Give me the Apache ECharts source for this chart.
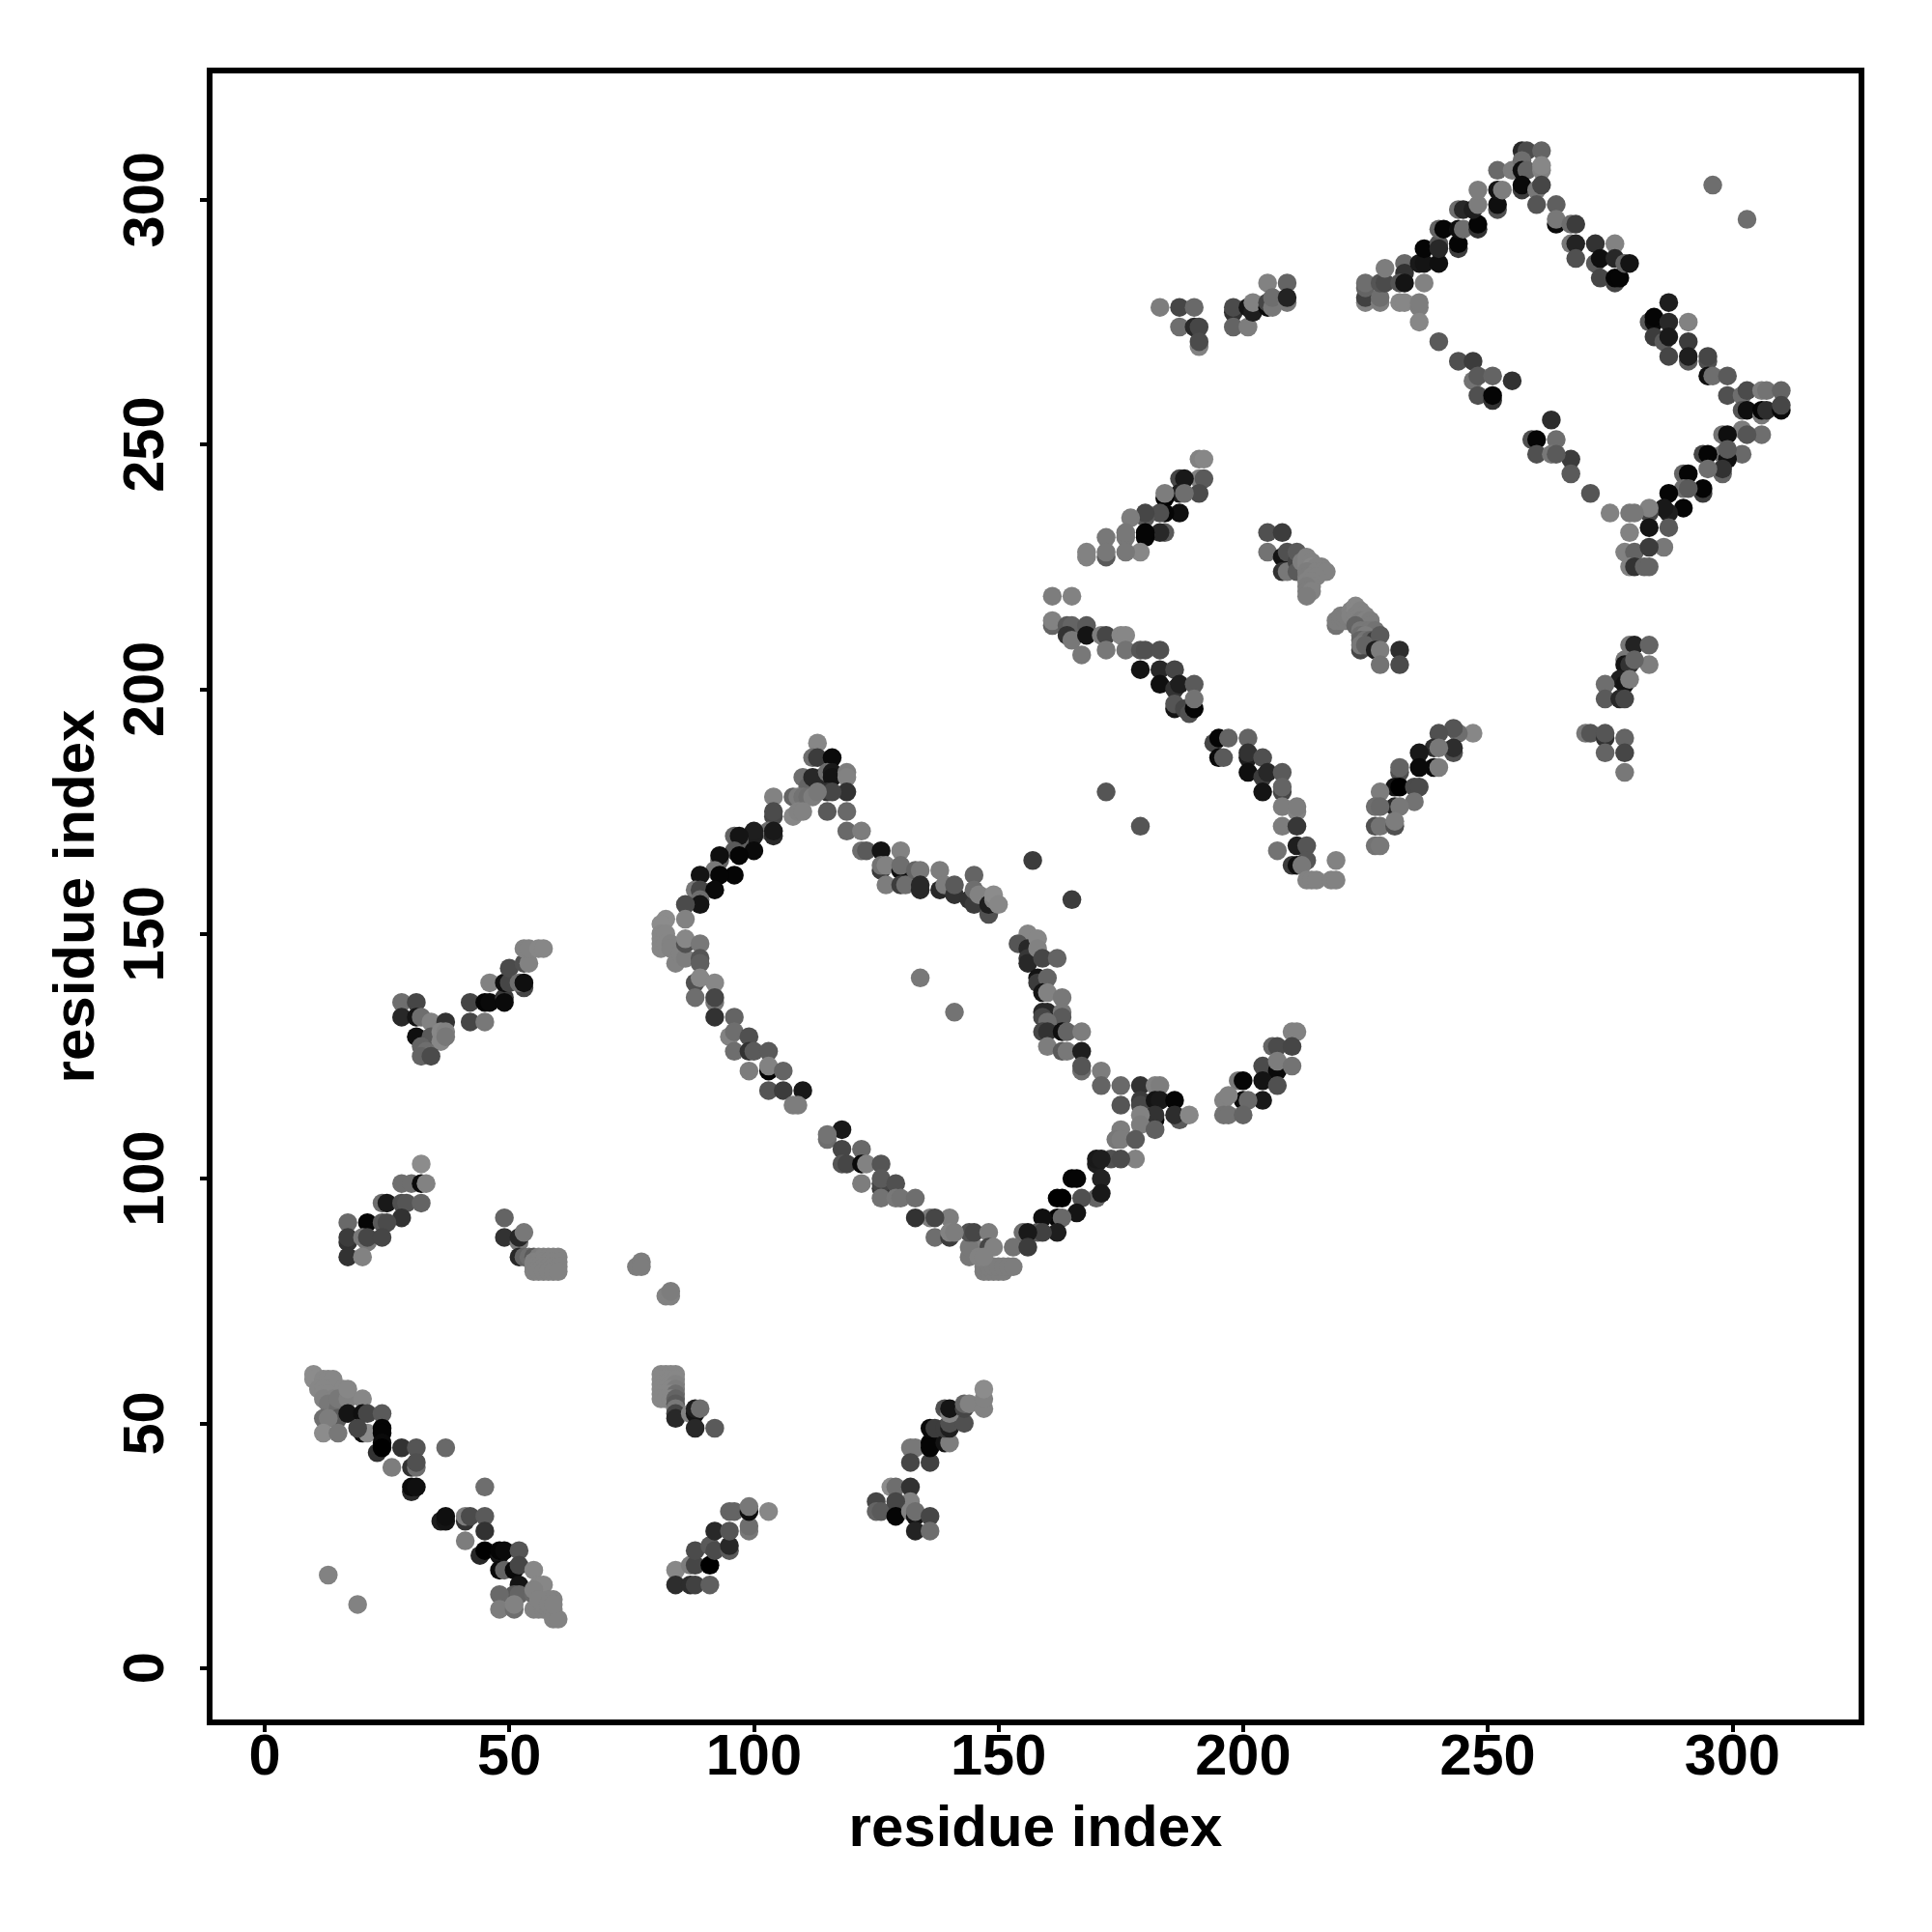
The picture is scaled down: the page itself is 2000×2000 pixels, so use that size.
<!DOCTYPE html>
<html><head><meta charset="utf-8"><style>html,body{margin:0;background:#fff}#c{width:2000px;height:2000px}</style>
<script src="https://cdn.jsdelivr.net/npm/echarts@6/dist/echarts.min.js"></script></head><body><div id="c"></div>
<script>
// every point: [residue x, residue y, gray level]
const tickValues=[0,50,100,150,200,250,300];
const axisTitle="residue index";
const isolated=[[13,19,130],[19,13,130],[134,141,120],[141,134,115],[172,179,85],[179,172,85],[157,165,60],[165,157,60],[296,303,110],[303,296,110]];
const a1=[[32,103,140],[28,99,110],[30,99,110],[32,99,10],[33,99,130],[24,95,110],[25,95,25],[28,95,80],[29,95,85],[32,95,100],[28,92,50],[17,91,105],[21,91,5],[24,91,90],[25,91,75],[17,87,50],[17,88,60],[20,88,120],[21,87,120],[21,88,70],[24,88,70],[17,84,50],[20,84,130]];
const a2=[[49,92,100],[49,88,50],[52,87,120],[52,88,40],[53,89,120],[52,84,40],[53,84,100],[54,84,110],[55,84,90],[56,84,125],[57,84,130],[58,84,130],[59,84,130],[60,84,130],
[55,83,130],[56,83,130],[57,83,130],[58,83,130],[59,83,130],[60,83,130],[55,82,130],[56,82,130],[57,82,130],[58,82,130],[59,82,130],[60,82,130],[55,81,130],[56,81,130],[57,81,130],[58,81,130],[59,81,130],[60,81,130],
[76,82,125],[77,83,125],[77,82,125],[82,76,130],[83,76,130],[83,77,125]];
const a3=[[10,60,140],[10,59,140],[12,59,135],[13,59,135],[14,59,135],[11,57,135],[13,57,135],[14,57,135],[16,57,135],[12,57,135],[12,56,135],[13,56,135],[12,55,130],[14,55,130],[13,54,120],[15,54,120],[15,53,110],[15,55,120],[17,55,130],[17,57,135],[20,55,135],[12,51,110],[15,51,90],[13,51,125],[17,52,20],[20,52,15],[21,52,70],[24,52,90],[12,48,140],[15,48,120],[20,48,15],[21,48,140],[19,49,70],[24,49,5],[24,48,5],[23,44,50],[24,46,10],[24,45,0],[28,45,50],[31,45,85],[37,45,105],[26,41,125],[30,41,50],[31,41,110],[31,42,80],[30,36,40],[30,37,10],[31,37,15],[45,37,110],
[36,30,30],[37,30,20],[37,31,15],[41,30,50],[41,31,125],[42,31,75],[45,31,90],[45,28,50],[41,26,125],[44,23,40],[45,24,0],[48,23,20],[48,24,5],[49,24,10],[52,24,85],[48,20,10],[49,20,100],[51,20,10],[52,21,70],[55,20,135],[52,17,20],[51,15,90],[52,15,100],[48,15,105],[48,12,125],[51,12,110],[51,13,130],[55,15,105],[56,17,135],[57,17,135],[55,16,130],
[55,12,130],[56,12,130],[57,12,130],[58,12,130],[59,12,130],[59,14,130],[58,14,130],[57,13,130],[56,14,130],[59,10,130],[60,10,130],[58,13,130],[59,13,130]];
const a4=[[81,60,135],[82,60,135],[83,60,135],[84,60,135],[81,59,135],[82,59,135],[83,59,135],[84,59,135],[81,58,135],[82,58,135],[83,58,135],[84,58,130],[81,57,135],[82,57,135],[83,57,135],[84,57,125],[81,56,135],[82,56,135],[83,56,135],[84,56,110],[81,55,135],[82,55,135],[83,55,135],[84,55,100],[84,54,90],[84,53,120],[84,52,70],[84,51,40],
[87,52,130],[88,52,20],[88,53,30],[89,53,110],[88,49,40],[92,49,90]];
const a5=[[84,20,135],[84,17,45],[87,17,45],[88,17,65],[91,17,95],[87,21,125],[88,21,70],[91,21,0],[88,24,75],[91,25,90],[92,24,75],[95,24,90],[95,25,40],[92,28,40],[95,28,85],[99,28,120],[99,29,110],[95,32,100],[96,32,100],[99,32,15],[99,33,120],[103,32,135]];
const a6=[[125,34,70],[125,32,100],[126,32,90],[128,37,140],[129,37,110],[132,37,50],[132,34,130],[129,34,70],[129,31,5],[132,32,130],[133,31,20],[133,32,110],[136,31,70],[133,28,35],[136,28,110],
[132,45,120],[133,45,120],[132,42,70],[136,42,65],[136,46,5],[136,45,5],[139,46,20],[140,46,125],[136,49,10],[137,49,60],[139,49,60],[140,49,30],[140,50,80],[143,50,80],[139,53,80],[140,52,130],[140,53,20],[143,53,70],[143,54,100],[144,54,130],[147,53,130],[147,55,130],[147,57,140]];
const a7=[[28,136,110],[31,136,70],[28,133,40],[31,133,20],[32,133,110],[34,132,130],[37,132,50],[31,129,15],[34,129,90],[36,130,135],[37,130,130],[36,128,135],[37,129,120],[32,127,100],[33,126,110],[32,125,100],[34,125,75],
[42,136,70],[42,132,70],[45,132,120],[45,136,5],[46,136,10],[46,140,130],[49,137,60],[49,136,10],[49,140,15],[50,140,70],[50,143,75],[53,139,70],[52,140,110],[53,140,15],[53,144,80],[54,144,130],[53,147,130],[54,147,130],[56,147,135],[57,147,135]];
const ring1=[[113,189,135],[112,186,110],[113,186,60],[116,186,10],[110,182,110],[112,180,100],[111,180,100],[113,181,60],[114,182,40],[112,182,40],[115,183,110],[116,183,25],[116,182,20],[119,183,125],[119,182,130],[119,179,50],[115,179,50],[116,179,70],[108,178,100],[109,178,125],[110,178,115],[111,178,110],[112,178,125],[113,179,120],[115,175,90],[119,175,105],[108,174,135],[109,175,130],[110,175,130],[104,178,130],[104,174,70],[104,175,75],[103,171,110],[104,170,40],[104,171,25],[119,171,105],[122,171,125],
[100,170,30],[100,171,30],[96,170,100],[97,169,95],[97,170,20],[96,167,90],[100,167,10],[97,166,5],[93,165,100],[93,166,15],[92,163,120],[96,162,5],[93,162,5],[89,162,20],[88,159,120],[89,159,70],[92,159,10],[89,157,110],[89,156,20],[86,156,75],[86,153,130],[82,153,140],
[81,152,140],[81,150,135],[81,149,135],[81,148,135],[81,147,135],[82,150,135],[82,148,135],[83,148,130],[83,147,130],[84,144,130],[85,146,130],[86,145,125],[86,148,80],[86,149,135],[89,148,120],[89,145,85],[89,144,95],[88,140,80],[89,141,135],[92,140,135],[88,137,110],[92,136,120],[92,137,70],[92,133,50],[96,133,100],[95,129,130],[96,130,110],[96,126,110],[99,129,80],[99,126,50],[100,126,90],[99,122,125],[103,126,90],[103,122,5],[103,123,130],[106,122,100],[103,118,85],[106,118,60],[110,118,25],[108,115,125],[109,115,125]];
const ring2=[[118,110,25],[115,108,110],[115,109,115],[118,106,70],[122,106,105],[118,103,85],[119,103,70],[122,103,10],[123,103,130],[126,103,85],[122,99,125],[126,98,60],[126,99,70],[126,100,90],[129,99,80],[126,96,115],[129,96,120],[130,96,115],[133,96,110]];
const arm1=[[122,167,110],[123,167,90],[126,167,20],[130,167,130],[126,163,60],[126,164,115],[127,164,130],[130,163,15],[130,164,110],[127,160,125],[130,160,60],[131,160,110],[133,163,100],[134,163,120],[134,159,40],[134,160,40],[138,159,40],[138,163,125],[139,160,125],[141,158,50],[141,160,90],[145,162,100],[144,157,50],[145,156,60],[145,159,110],[146,158,130],[148,154,80],[148,156,30],[149,157,130],[149,158,140],[150,156,135]];
const arm2=[[156,150,135],[154,148,85],[156,147,40],[156,145,55],[156,144,40],[158,149,135],[158,147,130],[159,145,70],[162,145,100],[158,141,20],[158,140,60],[160,141,100],[159,138,20],[160,138,130],[163,137,120],[159,134,40],[160,134,40],[163,134,120],[159,133,70],[163,133,90],[160,132,110],[159,130,70],[160,130,50],[163,130,15],[164,130,100],[167,130,125],[160,127,125],[163,126,90],[164,126,120],[167,126,30],[167,122,110],[167,123,85],[171,122,125],[171,119,100],[175,119,105]];
const arm3=[[179,119,50],[182,119,130],[183,119,125],[175,115,85],[179,116,60],[179,115,70],[182,116,20],[183,116,25],[186,116,5],[187,112,90],[186,113,45],[182,112,5],[182,113,50],[189,113,135],[179,113,130],[179,111,125],[182,110,95],[175,110,125],[174,108,120],[175,108,125],[178,108,90],[178,104,130],[173,104,80],[175,104,75],[170,103,30],[170,104,25],[171,104,30]];
const ring3=[[165,100,5],[166,100,5],[171,100,35],[170,96,100],[171,97,25],[167,96,80],[163,96,0],[162,96,0],[166,93,20],[162,92,5],[163,92,105],[159,92,15],[162,89,30],[158,89,90],[159,89,65],[155,89,110],[156,89,25],[153,86,115],[156,86,60],
[147,81,125],[148,81,125],[149,81,125],[150,81,125],[151,81,125],[147,82,125],[148,82,125],[149,82,125],[150,82,125],[151,82,125],[152,82,125],[153,82,125],[144,84,120],[145,86,130],[144,86,120],[144,89,80],[145,89,70],[148,89,125],[148,86,70],[149,86,130],[146,84,130],[147,84,130],
[140,92,125],[136,92,125],[137,92,70],[133,92,50],[137,88,110],[140,88,60],[140,89,130],[141,89,125]];
const arm4=[[210,130,130],[211,130,130],[206,127,100],[207,127,75],[210,127,70],[204,123,75],[207,122,10],[207,124,125],[210,123,115],[199,120,120],[200,120,5],[204,120,20],[207,119,80],[204,116,25],[200,116,10],[201,116,105],[196,116,130],[197,117,130],[196,113,115],[197,113,115],[200,113,100]];
const b1=[[191,247,130],[192,247,135],[191,243,130],[192,243,90],[187,243,70],[188,243,25],[191,240,75],[187,240,30],[188,240,110],[184,239,0],[184,240,125],[187,236,15],[184,236,5],[183,236,80],[180,235,90],[180,236,70],[177,235,125],[184,232,90],[183,232,40],[180,231,5],[180,232,5],[176,231,120],[176,232,120],[172,231,120],[179,228,135],[176,228,120],[172,227,90],[172,228,120],[168,227,130],[168,228,130]];
const b2=[[161,219,125],[165,219,130],[161,213,100],[161,214,130],[164,213,90],[165,213,100],[168,213,90],[164,211,50],[165,210,120],[168,211,20],[171,211,125],[172,211,70],[175,211,135],[176,211,135],[167,207,120],[172,208,120],[176,208,115],[179,208,85],[180,208,80],[183,208,80],[179,204,20],[183,204,40],[186,204,70],[183,201,15],[186,200,50],[187,201,30],[190,201,90],[186,196,20],[186,197,85],[188,196,70],[189,195,80],[190,196,5],[190,198,115]];
const b3=[[194,189,70],[195,190,5],[197,190,100],[201,190,100],[195,186,10],[196,186,90],[201,186,30],[201,187,50],[204,186,80],[201,183,15],[204,182,60],[205,183,40],[208,183,90],[204,179,20],[208,179,70],[208,180,100],[208,176,125],[211,175,130],[211,176,125],[208,172,125],[211,172,55],[207,167,115],[211,168,30],[213,168,85],[213,165,85],[210,164,60],[211,164,15],[212,164,120],[219,165,130],[213,161,130],[214,161,130],[215,161,130],[218,161,130],[219,161,130]];
const b4=[[205,232,80],[208,232,60],[205,228,115],[208,227,20],[209,228,80],[208,224,50],[209,224,120],[211,226,70],[211,228,90],[211,224,90],[212,226,125],[213,226,130],[213,225,130],[213,227,130],[214,226,130],[214,225,135],[216,225,130],[215,225,130],[214,224,130],[213,224,125],[215,224,130],[216,224,130],[217,224,130],[213,223,125],[214,223,130],[215,223,130],[213,222,130],[214,222,130],[214,221,130],[213,221,125],[213,220,125],[214,220,130],[213,219,125],
[219,213,115],[219,214,125],[220,214,125],[220,215,125],[221,214,125],[221,215,125],[222,216,130],[222,215,130],[223,217,135],[223,216,135],[223,215,130],[224,216,130],[224,215,130],[225,215,130],[224,214,125],[225,214,130],[225,213,125],[226,214,125],[226,213,125],[223,213,100],[224,212,120],[225,212,120],[226,212,120],[227,212,115],[224,211,110],[225,211,125],[224,210,100],[225,210,115],[226,210,100],[227,210,60],[224,208,70],[224,209,120],[225,209,100],[228,211,90],[227,208,30],[228,208,125],[232,208,45],[228,205,115],[232,205,75]];
const b5=[[247,191,135],[244,191,110],[243,192,85],[240,191,80],[243,187,80],[243,188,45],[239,188,45],[240,188,120],[236,187,25],[239,184,10],[240,184,125],[236,184,10],[232,183,80],[232,184,100],[231,180,20],[232,180,0],[235,180,75],[236,180,75],[228,179,125],[235,177,115],[231,176,40],[232,176,120],[227,176,110],[228,176,105],[227,172,80],[228,172,115],[231,172,80],[231,173,125],[227,168,115],[228,168,120]];
const c1=[[279,209,120],[280,209,35],[283,209,100],[283,205,125],[278,206,120],[278,205,20],[279,205,50],[280,206,100],[277,202,30],[278,201,20],[279,202,125],[274,201,110],[274,198,90],[277,198,40],[278,198,70],[270,191,120],[271,191,85],[274,190,50],[274,191,85],[278,190,100],[278,187,70],[274,187,100],[278,183,120]];
const c2=[[183,278,125],[187,278,70],[190,278,105],[187,274,110],[190,274,40],[191,274,70],[191,270,130],[191,271,75],[198,277,50],[198,278,75],[198,274,100],[201,274,125],[201,278,20],[202,277,30],[202,279,130],[205,283,130],[209,283,100],[205,278,10],[205,279,70],[206,278,120],[206,280,110],[209,279,120],[209,280,35]];
const d1=[[225,279,130],[225,280,65],[225,282,100],[225,283,110],[228,279,125],[228,280,110],[228,283,85],[229,283,75],[229,286,125],[233,287,105],[233,285,50],[232,283,85],[233,283,20],[232,279,135],[233,279,135],[236,278,125],[236,279,125],[236,275,135],[237,283,130],[236,287,25],[237,287,20],[237,290,5],[240,287,15],[240,291,85],[240,290,40],[240,294,100],[241,294,5],[244,290,60],[244,291,5],[244,294,15],[245,294,110],[248,294,50],[248,295,5],[244,298,110],[245,298,40],[247,298,30],[248,299,125],[248,302,125],[252,298,80],[252,299,15],[252,302,20],[253,302,125],[252,306,105],[255,306,125]];
const d2=[[257,310,40],[258,310,75],[261,310,100],[257,308,110],[257,306,15],[258,306,100],[261,306,130],[261,307,135],[257,302,60],[257,303,10],[260,302,120],[261,303,70],[260,299,85],[264,299,95],[264,295,10],[264,296,120],[267,295,110],[268,295,60],[267,291,120],[268,291,35],[272,291,50],[268,288,80],[272,287,90],[273,288,15],[276,291,130],[276,288,40],[273,284,70],[276,283,70],[276,284,5],[277,284,5],[278,287,100],[279,287,20]];
const d3=[[287,279,30],[283,275,90],[284,275,10],[284,276,5],[287,275,40],[291,275,130],[284,272,60],[286,271,90],[287,272,25],[291,271,60],[287,268,70],[291,267,90],[291,268,30],[295,267,80],[295,268,70],[295,264,15],[296,264,110],[299,264,90],[299,260,80],[302,260,110],[303,261,75],[306,261,125],[307,261,115],[310,261,100],[302,257,85],[303,257,15],[306,256,120],[306,257,5],[307,257,45],[310,257,10],[310,258,70]];
const d4=[[306,252,110],[302,253,125],[303,252,85],[298,252,115],[299,252,15],[302,248,105],[298,248,110],[299,247,15],[299,249,90],[294,248,70],[295,248,5],[298,244,100],[298,245,50],[295,245,110],[294,240,60],[294,241,5],[290,244,100],[291,244,5],[290,241,110],[291,241,90],[290,237,5],[287,240,5],[287,236,30],[286,237,25],[283,236,70],[283,237,130],[283,233,20],[287,233,90],[275,236,130],[279,236,120],[280,236,120],[279,232,130],[286,229,120],[278,228,130],[280,228,100],[283,229,60],[279,225,130],[280,225,50],[282,225,100],[283,225,100]];
const d5=[[271,240,85],[267,247,60],[267,244,90],[263,255,45],[259,251,80],[260,251,5],[264,251,110],[260,248,80],[263,248,120],[264,248,90],[240,271,90],[244,267,80],[247,267,60],[247,263,115],[248,264,90],[251,264,100],[255,263,50],[248,260,80],[251,259,50],[251,260,5]];

const allPoints=[].concat(isolated,a1,a2,a3,a4,a5,a6,a7,ring1,ring2,arm1,arm2,arm3,ring3,arm4,b1,b2,b3,b4,b5,c1,c2,d1,d2,d3,d4,d5);
const ink='#000';
const axisFont={fontFamily:'Liberation Sans',fontWeight:'bold',fontSize:59.5,color:ink};
const chart=echarts.init(document.getElementById('c'),null,{renderer:'canvas'});
chart.setOption({
 animation:false,backgroundColor:'#fff',
 grid:{left:217,top:73,width:1710,height:1710,show:true,borderColor:ink,borderWidth:6,backgroundColor:'#fff'},
 xAxis:{type:'value',min:-11.25,max:326.4,splitLine:{show:false},
  axisLine:{show:false,onZero:false},
  axisTick:{show:true,customValues:tickValues,length:10,lineStyle:{color:ink,width:4}},
  axisLabel:{show:true,customValues:tickValues,margin:38,verticalAlign:'middle',align:'center',...axisFont},
  name:axisTitle,nameLocation:'middle',nameGap:111,nameTextStyle:{...axisFont,fontSize:60,verticalAlign:'middle'}},
 yAxis:{type:'value',min:-11.1,max:326.4,splitLine:{show:false},
  axisLine:{show:false,onZero:false},
  axisTick:{show:true,customValues:tickValues,length:10,lineStyle:{color:ink,width:4}},
  axisLabel:{show:true,customValues:tickValues,rotate:90,margin:64,verticalAlign:'middle',align:'center',...axisFont},
  name:axisTitle,nameLocation:'middle',nameGap:137,nameRotate:90,nameTextStyle:{...axisFont,fontSize:60,verticalAlign:'middle'}},
 series:[{type:'scatter',data:allPoints,symbol:'circle',symbolSize:19.5,large:false,silent:true,
  itemStyle:{color:p=>{const g=p.value[2];return `rgb(${g},${g},${g})`},opacity:1}}]
});
</script></body></html>
